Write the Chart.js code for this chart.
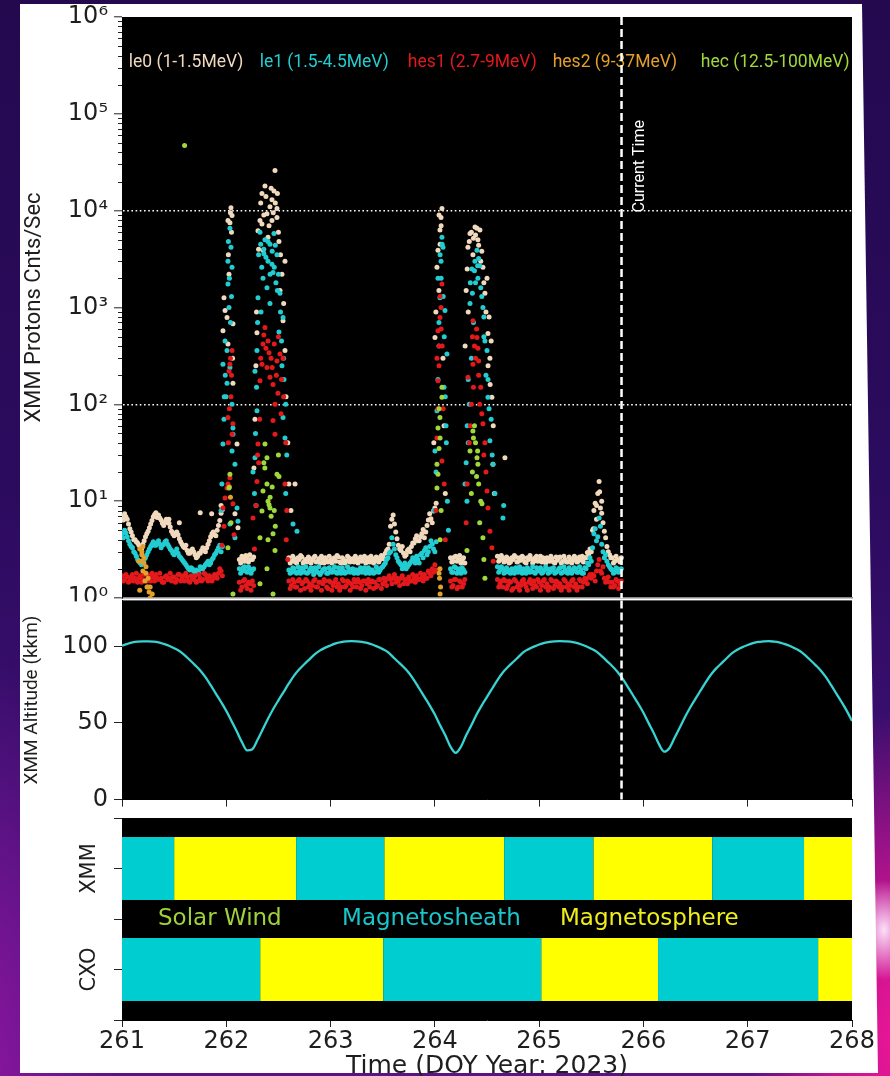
<!DOCTYPE html>
<html>
<head>
<meta charset="utf-8">
<title>XMM Protons</title>
<script src="https://cdn.jsdelivr.net/npm/chart.js@4.4.1/dist/chart.umd.min.js"></script>
<style>
html, body { margin:0; padding:0; }
body {
  width:890px; height:1076px; position:relative; overflow:hidden;
  background:
    radial-gradient(30px 50px at 884px 930px, rgba(255,235,255,0.95), rgba(255,235,255,0) 100%),
    radial-gradient(150px 330px at 900px 1040px, rgba(238,22,150,1) 0%, rgba(225,20,150,0.75) 45%, rgba(200,20,150,0) 100%),
    radial-gradient(140px 420px at -20px 1076px, rgba(140,22,160,0.95) 0%, rgba(140,22,160,0) 100%),
    linear-gradient(to bottom, #24094f 0%, #2b0b5e 45%, #3d0f72 75%, #5a1384 100%);
}
#frame { position:absolute; left:0; top:0; width:890px; height:1076px; background:#fff;
  clip-path: polygon(20px 4px, 862px 4px, 878px 1073px, 20px 1073px); }
canvas { position:absolute; left:0; }
</style>
</head>
<body>
<div id="frame"></div>
<canvas id="protons" width="890" height="630" style="top:-10px"></canvas>
<canvas id="altitude" width="890" height="240" style="top:580px"></canvas>
<canvas id="regions" width="890" height="282" style="top:800px"></canvas>
<script>
// ---------------- data ----------------
const DAY_MIN = 261, DAY_MAX = 268;
const CURRENT_TIME = 265.79;
const dayTicks = [261, 262, 263, 264, 265, 266, 267, 268];

const seriesNames = ['le0 (1-1.5MeV)', 'le1 (1.5-4.5MeV)', 'hes1 (2.7-9MeV)', 'hes2 (9-37MeV)', 'hec (12.5-100MeV)'];
const seriesColors = ['#f0d9bd', '#22cdd2', '#e3191c', '#e3a02c', '#a0d83a'];

// regular-cadence quiet-time samples (two interleaved rows, cadence 0.025 d); null = no quiet sample
const GRID_START = 261.0, GRID_STEP = 0.025, GRID_START_B = 261.0125;
const N = null;
const le0Base = [
  7.0, 7.4, 6.5, 5.2, 4.4, 4.0, 3.7, 3.4, 3.6, 4.3, 4.9, 5.8, 6.9, 7.6, 7.2, 6.4, 5.6, 6.5, 5.9, 4.9,
  4.4, 4.8, 4.1, 3.6, 3.3, 3.1, 2.9, 3.2, 2.8, 2.7, 2.9, 3.3, 3.0, 3.6, 4.3, 4.8, 4.4, 5.6, 7.5,
  N, N, N, N, N, N,
  2.5, 2.7, 2.4, 2.6, 2.8, 2.5,
  N, N, N, N, N, N, N, N, N, N, N, N, N,
  2.6, 2.4, 2.55, 2.3, 2.5, 2.65, 2.4, 2.35, 2.55, 2.45, 2.7, 2.4, 2.3, 2.5, 2.6, 2.35, 2.45, 2.55, 2.4, 2.65,
  2.3, 2.5, 2.4, 2.6, 2.45, 2.35, 2.55, 2.5, 2.4, 2.7, 2.45, 2.35, 2.55, 2.4, 2.6, 2.5, 2.7, 2.9, 3.2,
  5.5, 7.2, 4.8, 3.5, 3.1, 2.9, 2.8, 3.2, 3.4, 3.7, 4.4, 3.9, 4.6, 4.2, 5.6, 7.4, 6.0, 8.5,
  N, N, N, N, N,
  2.6, 2.4, 2.7, 2.5, 2.3, 2.6,
  N, N, N, N, N, N, N, N, N, N, N, N,
  2.7, 2.5, 2.6, 2.4, 2.55, 2.35, 2.5, 2.65, 2.4, 2.45, 2.6, 2.3, 2.5, 2.55, 2.4, 2.7, 2.45, 2.35,
  2.5, 2.6, 2.4, 2.55, 2.3, 2.45, 2.65, 2.4, 2.5, 2.35, 2.55, 2.45, 2.6, 2.4, 2.5, 2.35, 2.6, 2.8,
  3.0, 8.0, 6.5, 16, 10, 4.9, 3.4, 2.8,
  2.6, 2.4, 2.5, 2.35
];
const le0BaseB = [
  6.4, 6.9, 5.8, 4.8, 4.0, 3.8, 3.5, 3.2, 3.9, 4.6, 5.3, 6.3, 7.3, 6.8, 6.7, 5.9, 6.1, 6.0, 5.4, 4.6,
  4.7, 4.5, 3.8, 3.4, 3.5, 2.9, 3.1, 3.0, 2.6, 2.9, 3.1, 3.1, 3.3, 3.9, 4.6, 4.5, 5.0, 6.3, 8.2,
  N, N, N, N, N, N,
  2.3, 2.55, 2.75, 2.35, 2.5, 2.65,
  N, N, N, N, N, N, N, N, N, N, N, N, N,
  2.3, 2.7, 2.35, 2.6, 2.75, 2.3, 2.5, 2.65, 2.3, 2.6, 2.35, 2.55, 2.7, 2.3, 2.45, 2.7, 2.3, 2.6, 2.75, 2.35,
  2.6, 2.3, 2.7, 2.35, 2.55, 2.7, 2.3, 2.65, 2.55, 2.3, 2.6, 2.7, 2.3, 2.65, 2.35, 2.75, 2.55, 3.1, 3.6,
  6.5, 5.8, 4.1, 3.2, 3.4, 2.7, 3.1, 3.0, 3.7, 4.1, 3.9, 4.3, 5.1, 4.8, 6.4, 6.6, 7.9, 9.5,
  N, N, N, N, N,
  2.35, 2.65, 2.4, 2.75, 2.5, 2.3,
  N, N, N, N, N, N, N, N, N, N, N, N,
  2.4, 2.75, 2.35, 2.65, 2.3, 2.6, 2.75, 2.35, 2.6, 2.7, 2.35, 2.6, 2.75, 2.3, 2.6, 2.4, 2.7, 2.6,
  2.3, 2.45, 2.7, 2.35, 2.65, 2.6, 2.3, 2.7, 2.35, 2.65, 2.3, 2.7, 2.35, 2.65, 2.7, 2.6, 2.95, 3.2,
  5.0, 9.5, 12, 8.5, 6.0, 4.2, 3.0, 2.6,
  2.3, 2.7, 2.45, 2.6
];
const le1Base = [
  4.6, 5.0, 4.3, 3.6, 3.3, 2.9, 2.5, 2.3, 2.4, 2.6, 3.0, 3.4, 3.8, 3.5, 3.9, 3.3, 3.6, 3.9, 3.4, 3.1,
  2.8, 3.2, 2.7, 2.5, 2.3, 2.1, 1.95, 2.0, 1.85, 1.9, 2.1, 2.0, 2.2, 2.4, 2.3, 2.6, 2.9, 3.3, 3.0,
  N, N, N, N, N, N,
  2.0, 1.9, 2.1, 1.85, 2.0, 1.95,
  N, N, N, N, N, N, N, N, N, N, N, N, N,
  1.95, 1.85, 2.0, 1.8, 1.9, 2.05, 1.85, 1.8, 1.95, 1.9, 2.05, 1.85, 1.75, 1.95, 2.0, 1.8, 1.9, 1.95, 1.85, 2.05,
  1.8, 1.9, 1.85, 2.0, 1.9, 1.8, 1.95, 1.9, 1.85, 2.05, 1.9, 1.8, 1.95, 1.85, 2.0, 1.95, 2.1, 2.3, 2.6,
  3.0, 3.6, 2.8, 2.4, 2.2, 2.1, 2.0, 2.2, 2.4, 2.5, 2.7, 2.3, 2.9, 3.1, 2.8, 3.4, 3.6, 3.0,
  N, N, N, N, N,
  2.0, 1.85, 2.05, 1.9, 1.8, 1.95,
  N, N, N, N, N, N, N, N, N, N, N, N,
  2.1, 1.95, 2.0, 1.85, 1.95, 1.8, 1.9, 2.05, 1.85, 1.9, 2.0, 1.8, 1.95, 1.9, 1.85, 2.05, 1.9, 1.8,
  1.95, 2.0, 1.85, 1.95, 1.8, 1.9, 2.05, 1.85, 1.95, 1.8, 1.95, 1.9, 2.0, 1.85, 1.95, 1.8, 2.0, 2.2,
  2.4, 4.6, 3.9, 6.7, 3.6, 2.6, 2.4, 2.1,
  1.95, 1.85, 2.0, 1.9
];
const le1BaseB = [
  4.2, 4.7, 3.9, 3.4, 3.0, 2.7, 2.4, 2.2, 2.5, 2.8, 3.2, 3.6, 3.5, 3.7, 3.6, 3.5, 3.8, 3.6, 3.2, 2.9,
  3.0, 2.9, 2.6, 2.4, 2.2, 2.0, 2.05, 1.9, 1.95, 1.8, 2.0, 2.1, 2.3, 2.2, 2.5, 2.8, 3.1, 3.5, 3.4,
  N, N, N, N, N, N,
  1.8, 2.05, 1.9, 2.1, 1.8, 2.0,
  N, N, N, N, N, N, N, N, N, N, N, N, N,
  1.8, 2.05, 1.85, 2.1, 1.8, 1.95, 2.1, 1.85, 2.05, 1.75, 1.95, 2.1, 1.85, 2.0, 1.8, 2.05, 1.85, 2.1, 1.8, 1.95,
  2.05, 1.8, 2.1, 1.85, 2.0, 1.95, 1.8, 2.05, 2.0, 1.8, 2.05, 1.95, 1.8, 2.1, 1.85, 2.05, 2.2, 2.5, 2.9,
  4.2, 3.2, 2.6, 2.3, 2.0, 2.3, 2.1, 2.3, 2.6, 2.3, 2.5, 2.8, 2.6, 3.3, 3.0, 3.9, 3.2, 3.8,
  N, N, N, N, N,
  1.85, 2.1, 1.8, 2.0, 2.05, 1.85,
  N, N, N, N, N, N, N, N, N, N, N, N,
  1.85, 2.1, 1.8, 2.05, 1.85, 2.0, 1.8, 1.95, 2.1, 1.8, 1.95, 2.05, 1.85, 2.1, 1.8, 1.95, 2.05, 1.85,
  2.1, 1.8, 2.0, 2.05, 1.85, 2.0, 1.8, 2.1, 1.85, 2.05, 1.8, 2.05, 1.85, 2.1, 1.8, 2.05, 2.3, 2.6,
  3.3, 5.2, 4.3, 5.5, 3.0, 2.8, 2.2, 2.0,
  1.8, 2.05, 1.85, 2.0
];
const hes1Base = [
  1.7, 1.55, 1.65, 1.5, 1.75, 1.6, 1.45, 1.7, 1.55, 1.8, 1.6, 1.5, 1.65, 1.75, 1.55, 1.6, 1.45, 1.7, 1.6, 1.5,
  1.65, 1.55, 1.75, 1.6, 1.5, 1.65, 1.45, 1.6, 1.7, 1.5, 1.6, 1.55, 1.75, 1.5, 1.65, 1.6, 1.7, 1.8, 1.9,
  N, N, N, N, N, N,
  1.45, 1.3, 1.55, 1.25, 1.4, 1.5,
  N, N, N, N, N, N, N, N, N, N, N, N, N,
  1.5, 1.35, 1.45, 1.3, 1.55, 1.4, 1.25, 1.5, 1.4, 1.35, 1.55, 1.3, 1.45, 1.4, 1.5, 1.25, 1.45, 1.35, 1.55, 1.4,
  1.3, 1.5, 1.35, 1.45, 1.4, 1.55, 1.3, 1.45, 1.35, 1.5, 1.4, 1.3, 1.5, 1.45, 1.35, 1.55, 1.4, 1.5, 1.6,
  1.55, 1.6, 1.45, 1.5, 1.6, 1.4, 1.55, 1.65, 1.5, 1.6, 1.7, 1.55, 1.65, 1.75, 1.6, 1.8, 2.0, 2.2,
  N, N, N, N, N,
  1.5, 1.35, 1.55, 1.3, 1.45, 1.4,
  N, N, N, N, N, N, N, N, N, N, N, N,
  1.55, 1.4, 1.3, 1.5, 1.35, 1.45, 1.25, 1.5, 1.4, 1.35, 1.55, 1.3, 1.45, 1.4, 1.5, 1.3, 1.45, 1.35,
  1.55, 1.4, 1.3, 1.5, 1.35, 1.45, 1.4, 1.3, 1.5, 1.4, 1.35, 1.55, 1.4, 1.3, 1.5, 1.45, 1.55, 1.65,
  1.6, 1.7, 1.9, 2.5, 1.8, 1.6, 1.5, 1.45,
  1.45, 1.35, 1.5, 1.4
];
const hes1BaseB = [
  1.5, 1.75, 1.45, 1.65, 1.5, 1.8, 1.6, 1.45, 1.75, 1.5, 1.7, 1.8, 1.5, 1.6, 1.8, 1.45, 1.65, 1.55, 1.8, 1.65,
  1.45, 1.75, 1.5, 1.7, 1.8, 1.5, 1.7, 1.55, 1.45, 1.75, 1.5, 1.8, 1.6, 1.7, 1.5, 1.75, 1.6, 2.0, 1.7,
  N, N, N, N, N, N,
  1.2, 1.5, 1.35, 1.45, 1.2, 1.35,
  N, N, N, N, N, N, N, N, N, N, N, N, N,
  1.25, 1.55, 1.3, 1.5, 1.2, 1.45, 1.55, 1.3, 1.2, 1.5, 1.3, 1.45, 1.2, 1.55, 1.3, 1.5, 1.2, 1.45, 1.3, 1.2,
  1.55, 1.3, 1.5, 1.2, 1.3, 1.45, 1.55, 1.25, 1.5, 1.2, 1.55, 1.45, 1.25, 1.3, 1.55, 1.25, 1.6, 1.35, 1.7,
  1.4, 1.75, 1.6, 1.35, 1.7, 1.55, 1.4, 1.5, 1.75, 1.45, 1.55, 1.8, 1.5, 1.6, 1.9, 1.7, 1.85, 1.95,
  N, N, N, N, N,
  1.3, 1.55, 1.25, 1.5, 1.3, 1.55,
  N, N, N, N, N, N, N, N, N, N, N, N,
  1.3, 1.5, 1.55, 1.25, 1.5, 1.2, 1.55, 1.3, 1.2, 1.5, 1.4, 1.2, 1.55, 1.25, 1.35, 1.55, 1.2, 1.5,
  1.3, 1.2, 1.55, 1.25, 1.5, 1.3, 1.2, 1.55, 1.3, 1.2, 1.5, 1.3, 1.2, 1.55, 1.3, 1.6, 1.4, 1.75,
  1.75, 1.5, 2.2, 1.9, 2.1, 1.45, 1.65, 1.3,
  1.3, 1.55, 1.25, 1.5
];

// burst-time samples [day, counts/s]
const le0Burst = [
  [261.45, 6.5], [261.55, 6.0], [261.75, 7.6], [261.86, 7.4], [261.95, 9.0],
  [261.968, 575], [261.978, 1260], [261.988, 930], [262.007, 790], [262.016, 420], [262.016, 7900],
  [262.020, 3500], [262.026, 2200], [262.035, 7500], [262.040, 9500], [262.045, 10700], [262.050, 6000],
  [262.055, 8900], [262.060, 300], [262.064, 680], [262.064, 165],
  [262.083, 7.4], [262.103, 39], [262.112, 5.3],
  [262.265, 22], [262.275, 70], [262.284, 250], [262.290, 900], [262.294, 550], [262.304, 6200], [262.310, 4000],
  [262.323, 7900], [262.330, 12000], [262.342, 15000], [262.342, 7300], [262.353, 3900], [262.360, 9000],
  [262.371, 18000], [262.380, 14000], [262.390, 9300], [262.400, 5300], [262.410, 7000], [262.419, 11000],
  [262.430, 17000], [262.438, 13000], [262.438, 7900], [262.450, 9500], [262.457, 16000], [262.467, 26000],
  [262.470, 12000], [262.486, 10500], [262.486, 8500], [262.490, 15000], [262.500, 6000], [262.505, 4800],
  [262.515, 1500], [262.520, 3500], [262.534, 2200], [262.544, 730], [262.550, 1100], [262.563, 3000],
  [262.563, 360], [262.573, 120], [262.590, 40], [262.600, 15], [262.620, 8], [262.659, 15],
  [263.990, 40], [264.001, 490], [264.010, 900], [264.020, 2600], [264.030, 3900], [264.039, 1500],
  [264.040, 9000], [264.049, 6300], [264.050, 4500], [264.059, 8500], [264.060, 7000], [264.068, 10500],
  [264.078, 300], [264.088, 60], [264.100, 12],
  [264.290, 400], [264.300, 1500], [264.310, 2500], [264.317, 4200], [264.320, 900], [264.330, 4800],
  [264.337, 5800], [264.350, 6000], [264.365, 3500], [264.370, 5200], [264.385, 6800], [264.390, 5600],
  [264.404, 6600], [264.413, 5000], [264.420, 4400], [264.432, 6300], [264.440, 3000], [264.450, 3800],
  [264.461, 2600], [264.470, 1800], [264.480, 1400], [264.490, 900], [264.500, 2000], [264.509, 540],
  [264.510, 250], [264.520, 800], [264.528, 300], [264.530, 160], [264.540, 450], [264.547, 118],
  [264.557, 24], [264.560, 60], [264.570, 12], [264.672, 28],
  [265.520, 5.2], [265.550, 9.0], [265.580, 12.5], [265.600, 7.5]
];
const le1Burst = [
  [261.950, 8], [261.958, 15], [261.968, 260], [261.968, 39], [261.978, 70], [261.980, 120], [261.988, 450],
  [261.990, 200], [261.998, 120], [262.007, 360], [262.007, 165], [262.016, 3000], [262.016, 1750],
  [262.020, 4800], [262.026, 1000], [262.030, 2000], [262.035, 6600], [262.035, 240], [262.035, 5.8],
  [262.040, 700], [262.045, 4200], [262.050, 1300], [262.055, 2600], [262.055, 100], [262.055, 33],
  [262.064, 49], [262.064, 57], [262.083, 24], [262.083, 4.2], [262.103, 8.5], [262.112, 6.2],
  [262.256, 20], [262.270, 12], [262.275, 220], [262.275, 28], [262.280, 50], [262.285, 9], [262.290, 150],
  [262.294, 360], [262.294, 86], [262.300, 700], [262.304, 1260], [262.310, 3500], [262.323, 6000],
  [262.330, 4500], [262.333, 900], [262.340, 2600], [262.352, 2000], [262.360, 4000], [262.361, 3600],
  [262.371, 5000], [262.380, 3300], [262.390, 1600], [262.400, 3000], [262.400, 4800], [262.419, 4500],
  [262.419, 1100], [262.420, 2200], [262.438, 2800], [262.440, 3800], [262.448, 2300], [262.457, 5800],
  [262.460, 2600], [262.470, 4400], [262.476, 1800], [262.486, 3500], [262.490, 1500], [262.500, 2200],
  [262.505, 560], [262.515, 1400], [262.520, 900], [262.530, 450], [262.534, 250], [262.544, 790],
  [262.544, 73], [262.550, 300], [262.553, 180], [262.563, 45], [262.570, 12], [262.570, 100], [262.580, 30],
  [262.640, 5.8], [262.678, 4.9],
  [263.990, 8], [264.001, 33], [264.011, 20], [264.020, 86], [264.030, 2000], [264.030, 180], [264.039, 700],
  [264.040, 400], [264.049, 1260], [264.050, 3500], [264.059, 3000], [264.060, 2000], [264.068, 5300],
  [264.070, 4500], [264.078, 4200], [264.080, 1300], [264.088, 150], [264.090, 500], [264.097, 930],
  [264.100, 120], [264.107, 60], [264.110, 40], [264.116, 330], [264.120, 10], [264.130, 5],
  [264.289, 15], [264.300, 25], [264.308, 10], [264.310, 60], [264.320, 40], [264.320, 180], [264.330, 100],
  [264.337, 1100], [264.340, 1800], [264.350, 300], [264.355, 2500], [264.360, 1400], [264.370, 700],
  [264.380, 2400], [264.384, 3000], [264.390, 1800], [264.404, 3900], [264.410, 2700], [264.413, 2000],
  [264.420, 3200], [264.430, 2700], [264.440, 1600], [264.450, 1300], [264.461, 1000], [264.470, 500],
  [264.470, 800], [264.480, 450], [264.490, 200], [264.500, 360], [264.509, 118], [264.510, 180],
  [264.520, 90], [264.528, 42], [264.540, 70], [264.550, 30], [264.557, 24], [264.576, 12], [264.653, 6.7],
  [264.660, 9]
];
const hes1Burst = [
  [261.958, 3.5], [261.968, 8.5], [261.978, 5.5], [261.988, 10.8], [262.007, 13.7], [262.016, 15],
  [262.016, 73], [262.020, 40], [262.026, 220], [262.030, 90], [262.035, 260], [262.035, 17.4],
  [262.040, 300], [262.045, 120], [262.050, 200], [262.055, 360], [262.055, 49], [262.064, 63],
  [262.064, 9.4], [262.074, 4.5],
  [262.256, 6.7], [262.270, 3.2], [262.285, 9], [262.294, 16], [262.300, 30], [262.304, 39], [262.310, 25],
  [262.320, 70], [262.323, 175], [262.330, 300], [262.342, 260], [262.352, 420], [262.360, 520],
  [262.371, 620], [262.380, 380], [262.390, 240], [262.400, 450], [262.410, 340], [262.419, 190],
  [262.429, 300], [262.440, 240], [262.448, 160], [262.448, 68], [262.460, 420], [262.467, 100],
  [262.467, 49], [262.480, 200], [262.486, 280], [262.495, 130], [262.500, 500], [262.515, 330],
  [262.525, 80], [262.530, 180], [262.544, 300], [262.550, 120], [262.563, 15], [262.570, 40],
  [262.575, 4], [262.580, 8], [262.590, 2.5],
  [264.010, 8], [264.020, 300], [264.020, 45], [264.030, 575], [264.030, 175], [264.030, 90], [264.040, 400],
  [264.040, 250], [264.049, 790], [264.050, 1300], [264.059, 1000], [264.060, 600], [264.068, 1750],
  [264.068, 26], [264.070, 400], [264.080, 90], [264.090, 15], [264.100, 4],
  [264.300, 6], [264.310, 15], [264.317, 190], [264.330, 40], [264.340, 60], [264.350, 100], [264.360, 500],
  [264.365, 730], [264.365, 260], [264.370, 150], [264.380, 400], [264.390, 300], [264.400, 600],
  [264.404, 490], [264.413, 380], [264.420, 200], [264.420, 280], [264.430, 100], [264.440, 150],
  [264.450, 80], [264.461, 63], [264.470, 30], [264.480, 40], [264.490, 20], [264.500, 12.7], [264.509, 8.5],
  [264.528, 4.9], [264.547, 3.3], [264.560, 2.4]
];
const hes2Burst = [
  [261.16, 2.4], [261.17, 3.2], [261.17, 1.2], [261.18, 2.4], [261.19, 3.0], [261.19, 2.8], [261.20, 3.4],
  [261.20, 1.9], [261.21, 2.6], [261.21, 2.3], [261.22, 1.5], [261.23, 2.1], [261.23, 1.8], [261.24, 1.3],
  [261.25, 1.6], [261.25, 1.3], [261.26, 1.15], [261.27, 1.3], [261.27, 1.0], [261.29, 1.1],
  [262.030, 14], [262.040, 11],
  [264.040, 1.8], [264.045, 1.6], [264.049, 2.0], [264.050, 1.1], [264.055, 1.3]
];
const hecBurst = [
  [261.60, 47000],
  [262.016, 3.3], [262.026, 13.7], [262.035, 19], [262.045, 6], [262.064, 1.1],
  [262.323, 4.2], [262.323, 1.4], [262.342, 7.9], [262.352, 12.7], [262.360, 25], [262.370, 22], [262.371, 39],
  [262.390, 15], [262.390, 28], [262.390, 2.0], [262.400, 10], [262.400, 4], [262.410, 9.2], [262.419, 8.5],
  [262.420, 11], [262.430, 7], [262.440, 14], [262.448, 4.6], [262.448, 1.1], [262.460, 8], [262.467, 3.1],
  [262.470, 5.5], [262.486, 19], [262.500, 30], [262.505, 18],
  [264.020, 24], [264.020, 13.7], [264.030, 57], [264.030, 19], [264.040, 35], [264.040, 90], [264.049, 73],
  [264.050, 4], [264.050, 45], [264.060, 8], [264.068, 150], [264.068, 118],
  [264.308, 3.1], [264.337, 33], [264.350, 12], [264.360, 20], [264.365, 53], [264.370, 45], [264.380, 60],
  [264.390, 40], [264.400, 18], [264.404, 28], [264.410, 33], [264.413, 24], [264.420, 15], [264.430, 6],
  [264.440, 10], [264.452, 9.4], [264.461, 4.2], [264.470, 2.5], [264.480, 1.6]
];

// XMM altitude (kkm), sampled every 0.05 d from 261.00
const ALT_START = 261.0, ALT_STEP = 0.05;
const altitude = [
  100.4, 101.6, 102.6, 103.1, 103.3, 103.3, 103.1, 102.6, 101.6, 100.4,
  98.8, 97.0, 94.3, 91.1, 87.8, 84.3, 79.9, 74.7, 69.2, 63.7,
  57.9, 51.3, 44.6, 37.5, 32.1, 32.9, 39.0, 45.9, 52.7, 59.1,
  64.8, 70.3, 75.8, 80.9, 85.0, 88.5, 91.7, 94.9, 97.4, 99.2,
  100.6, 101.9, 102.7, 103.2, 103.4, 103.3, 103.0, 102.3, 101.2, 99.8,
  98.2, 96.2, 93.0, 89.8, 86.5, 82.8, 78.0, 72.5, 67.0, 61.5,
  55.5, 48.5, 42.0, 34.5, 30.5, 34.5, 42.0, 48.5, 55.5, 61.5,
  67.0, 72.5, 78.0, 82.8, 86.5, 89.8, 93.0, 96.2, 98.2, 99.8,
  101.2, 102.3, 103.0, 103.3, 103.4, 103.3, 103.1, 102.4, 101.4, 100.1,
  98.5, 96.6, 93.6, 90.4, 87.2, 83.5, 79.0, 73.6, 68.1, 62.6,
  56.7, 49.9, 43.3, 36.0, 31.3, 33.7, 40.5, 47.2, 54.1, 60.3,
  65.9, 71.4, 76.9, 81.8, 85.8, 89.1, 92.4, 95.6, 97.8, 99.5,
  100.9, 102.1, 102.9, 103.2, 103.4, 103.1, 102.6, 101.6, 100.4, 98.8,
  97.0, 94.3, 91.1, 87.8, 84.3, 79.9, 74.7, 69.2, 63.7, 57.9,
  51.3
];
const altTicks = [0, 50, 100];

// plasma regions: [start day, end day]
const laneNames = {3: 'XMM', 1: 'CXO'};
const laneTicks = [0, 1, 2, 3, 4];
const xmmSheath = [[261.0, 261.5], [262.67, 263.515], [264.665, 265.52], [266.66, 267.54]];
const xmmSphere = [[261.5, 262.67], [263.515, 264.665], [265.52, 266.66], [267.54, 268.0]];
const cxoSheath = [[261.0, 262.325], [263.505, 265.02], [266.14, 267.675]];
const cxoSphere = [[262.325, 263.505], [265.02, 266.14], [267.675, 268.0]];
const regionNames = ['Solar Wind', 'Magnetosheath', 'Magnetosphere'];
const regionColors = ['#9fd23a', '#18c6cc', '#eeee1a'];

// ---------------- helpers ----------------
Chart.defaults.font.family = "'DejaVu Sans', sans-serif";
Chart.defaults.color = '#1e1e1e';
const SUP = {0: '\u2070', 1: '\u00b9', 2: '\u00b2', 3: '\u00b3', 4: '\u2074', 5: '\u2075', 6: '\u2076'};
const mantissa = v => v / Math.pow(10, Math.floor(Math.log10(v) + 1e-9));
const isDecade = v => Math.abs(mantissa(v) - 1) < 1e-6;
const gridDecades = [1e2, 1e4];

function buildSeries(rows, burst) {
  const pts = [];
  rows.forEach(([start, arr]) => arr.forEach((v, i) => { if (v !== null) pts.push({x: start + i * GRID_STEP, y: v}); }));
  burst.forEach(([x, y]) => pts.push({x, y}));
  return pts;
}
const fixedWidth = s => { s.width = 122; };

const panelBackground = {
  id: 'panelBackground',
  beforeDraw(chart, args, opts) {
    const {ctx, chartArea: a} = chart;
    ctx.save();
    if (opts && opts.coverAbove) {
      // the lower panel's white margin hides the lower half of the upper panel's bottom tick label
      ctx.fillStyle = '#fff';
      ctx.fillRect(20, a.top + 1, a.left - 28, opts.coverAbove);
    }
    ctx.fillStyle = '#000';
    ctx.fillRect(a.left, a.top, a.right - a.left, a.bottom - a.top);
    ctx.restore();
  }
};
const textLabels = {
  id: 'textLabels',
  afterDatasetsDraw(chart, args, opts) {
    if (!opts.items) return;
    const {ctx, scales: {x, y}} = chart;
    ctx.save();
    ctx.font = opts.font; ctx.textBaseline = 'middle'; ctx.textAlign = 'left';
    opts.items.forEach(it => {
      ctx.fillStyle = it.color;
      ctx.fillText(it.text, x.getPixelForValue(it.x), y.getPixelForValue(it.y));
    });
    ctx.restore();
  }
};
const currentTimeLine = {
  id: 'currentTimeLine',
  afterDraw(chart, args, opts) {
    if (!opts.show) return;
    const {ctx, chartArea: a, scales: {x, y}} = chart;
    const px = x.getPixelForValue(CURRENT_TIME);
    ctx.save();
    ctx.strokeStyle = '#fff'; ctx.lineWidth = 2.5; ctx.setLineDash([8, 4]);
    ctx.beginPath(); ctx.moveTo(px, a.top); ctx.lineTo(px, a.bottom); ctx.stroke();
    if (opts.label) {
      ctx.setLineDash([]);
      ctx.translate(px + 18, y.getPixelForValue(opts.labelAt));
      ctx.rotate(-Math.PI / 2);
      ctx.fillStyle = '#fff'; ctx.font = "16px Roboto"; ctx.textAlign = 'left'; ctx.textBaseline = 'middle';
      ctx.fillText(opts.label, 0, 0);
    }
    ctx.restore();
  }
};
const logMinorTicks = {
  id: 'logMinorTicks',
  afterDraw(chart) {
    const s = chart.scales.y, ctx = chart.ctx;
    ctx.save(); ctx.strokeStyle = '#222'; ctx.lineWidth = 1;
    s.ticks.forEach(t => {
      if (isDecade(t.value)) return;
      const py = Math.round(s.getPixelForValue(t.value)) + 0.5;
      ctx.beginPath(); ctx.moveTo(s.right - 4, py); ctx.lineTo(s.right, py); ctx.stroke();
    });
    ctx.restore();
  }
};

// ---------------- chart 1: protons ----------------
const rows = [
  [[GRID_START, le0Base], [GRID_START_B, le0BaseB]],
  [[GRID_START, le1Base], [GRID_START_B, le1BaseB]],
  [[GRID_START, hes1Base], [GRID_START_B, hes1BaseB]],
  [], []
];
const bursts = [le0Burst, le1Burst, hes1Burst, hes2Burst, hecBurst];
new Chart(document.getElementById('protons'), {
  type: 'scatter',
  data: {
    datasets: seriesNames.map((name, i) => ({
      label: name,
      data: buildSeries(rows[i], bursts[i]),
      backgroundColor: seriesColors[i],
      borderWidth: 0,
      pointRadius: 2.5,
      pointHoverRadius: 2.5,
      order: 5 - i
    }))
  },
  options: {
    responsive: false, animation: false, events: [],
    layout: {padding: {top: 27, right: 38, bottom: 22, left: 0}},
    plugins: {
      legend: {display: false}, tooltip: {enabled: false},
      textLabels: {
        font: "17.5px Roboto",
        items: seriesNames.map((t, i) => ({text: t, color: seriesColors[i], x: [261.065, 262.32, 263.74, 265.13, 266.55][i], y: 3.4e5}))
      },
      currentTimeLine: {show: true, label: 'Current Time', labelAt: 9600}
    },
    scales: {
      x: {
        type: 'linear', min: DAY_MIN, max: DAY_MAX,
        ticks: {display: false}, grid: {display: false},
        border: {display: true, color: '#8a8a8a', width: 1.5},
        afterFit: s => { s.height = 0; }
      },
      y: {
        type: 'logarithmic', min: 1, max: 1e6,
        afterFit: fixedWidth,
        afterBuildTicks: s => { s.ticks = s.ticks.filter(t => { const m = mantissa(t.value); return Math.abs(m - Math.round(m)) < 1e-6; }); },
        ticks: {
          autoSkip: false, padding: 6, color: '#1e1e1e', font: {size: 24},
          callback: v => isDecade(v) ? '10' + SUP[Math.round(Math.log10(v))] : ''
        },
        grid: {
          drawOnChartArea: true, lineWidth: 1.6, tickLength: 8, tickWidth: 1,
          color: c => (c.tick && gridDecades.some(d => Math.abs(c.tick.value - d) < 1e-6 * d)) ? '#ffffff' : 'rgba(0,0,0,0)',
          tickColor: c => (c.tick && isDecade(c.tick.value)) ? '#222' : 'rgba(0,0,0,0)'
        },
        border: {display: true, color: '#000', width: 1, dash: [1.6, 2.6]},
        title: {display: true, text: 'XMM Protons Cnts/Sec', color: '#1e1e1e', font: {family: 'Roboto', size: 22}, padding: {top: 21, bottom: 0}}
      }
    }
  },
  plugins: [panelBackground, textLabels, currentTimeLine, logMinorTicks]
});

// ---------------- chart 2: altitude ----------------
new Chart(document.getElementById('altitude'), {
  type: 'line',
  data: {
    datasets: [{
      label: 'XMM Altitude',
      data: altitude.map((v, i) => ({x: ALT_START + i * ALT_STEP, y: v})),
      borderColor: '#38d3d3', borderWidth: 2.3, pointRadius: 0, cubicInterpolationMode: 'monotone', fill: false
    }]
  },
  options: {
    responsive: false, animation: false, events: [],
    layout: {padding: {top: 18, right: 38, bottom: 0, left: 0}},
    plugins: {legend: {display: false}, tooltip: {enabled: false}, currentTimeLine: {show: true}, panelBackground: {coverAbove: 16}},
    scales: {
      x: {
        type: 'linear', min: DAY_MIN, max: DAY_MAX,
        afterBuildTicks: s => { s.ticks = dayTicks.map(v => ({value: v})); },
        ticks: {display: false},
        grid: {drawOnChartArea: false, tickLength: 7, tickColor: '#222'},
        border: {display: true, color: '#000', width: 1},
        afterFit: s => { s.height = 20; }
      },
      y: {
        type: 'linear', min: 0, max: 130,
        afterFit: fixedWidth,
        afterBuildTicks: s => { s.ticks = altTicks.map(v => ({value: v})); },
        ticks: {padding: 6, color: '#1e1e1e', font: {size: 24}},
        grid: {drawOnChartArea: false, tickLength: 8, tickColor: '#222'},
        border: {display: true, color: '#000', width: 1},
        title: {display: true, text: 'XMM Altitude (kkm)', color: '#1e1e1e', font: {family: 'Roboto', size: 19}, padding: {top: 21, bottom: 0}}
      }
    }
  },
  plugins: [panelBackground, currentTimeLine]
});

// ---------------- chart 3: regions ----------------
const toBars = (segs, lane) => segs.map(([a, b]) => ({x: [a, b], y: lane}));
new Chart(document.getElementById('regions'), {
  type: 'bar',
  data: {
    datasets: [
      {label: 'Magnetosheath', data: [...toBars(xmmSheath, 3), ...toBars(cxoSheath, 1)], backgroundColor: '#00cdd0', grouped: false, categoryPercentage: 1, barPercentage: 1.25, borderWidth: 0},
      {label: 'Magnetosphere', data: [...toBars(xmmSphere, 3), ...toBars(cxoSphere, 1)], backgroundColor: '#ffff00', grouped: false, categoryPercentage: 1, barPercentage: 1.25, borderWidth: 0}
    ]
  },
  options: {
    indexAxis: 'y',
    responsive: false, animation: false, events: [],
    layout: {padding: {top: 18, right: 38, bottom: 0, left: 0}},
    plugins: {
      legend: {display: false}, tooltip: {enabled: false},
      textLabels: {
        font: "23px 'DejaVu Sans'",
        items: regionNames.map((t, i) => ({text: t, color: regionColors[i], x: [261.345, 263.11, 265.2][i], y: 2}))
      }
    },
    scales: {
      x: {
        type: 'linear', min: DAY_MIN, max: DAY_MAX,
        afterBuildTicks: s => { s.ticks = dayTicks.map(v => ({value: v})); },
        ticks: {padding: 0, color: '#1e1e1e', font: {size: 24}},
        grid: {drawOnChartArea: false, tickLength: 7, tickColor: '#222'},
        border: {display: true, color: '#000', width: 1},
        title: {display: true, text: 'Time (DOY Year: 2023)', color: '#1e1e1e', font: {size: 25}, padding: {top: 0, bottom: 1}},
        afterFit: s => { s.height = 62; }
      },
      y: {
        type: 'linear', min: 0, max: 4, offset: false,
        afterFit: fixedWidth,
        afterBuildTicks: s => { s.ticks = laneTicks.map(v => ({value: v})); },
        ticks: {
          autoSkip: false, minRotation: 90, maxRotation: 90, crossAlign: 'center', padding: -1,
          color: '#1e1e1e', font: {size: 21},
          callback: v => laneNames[v] || ''
        },
        grid: {drawOnChartArea: false, offset: false, tickLength: 8, tickColor: '#222'},
        border: {display: true, color: '#000', width: 1}
      }
    }
  },
  plugins: [panelBackground, textLabels]
});
</script>
</body>
</html>
